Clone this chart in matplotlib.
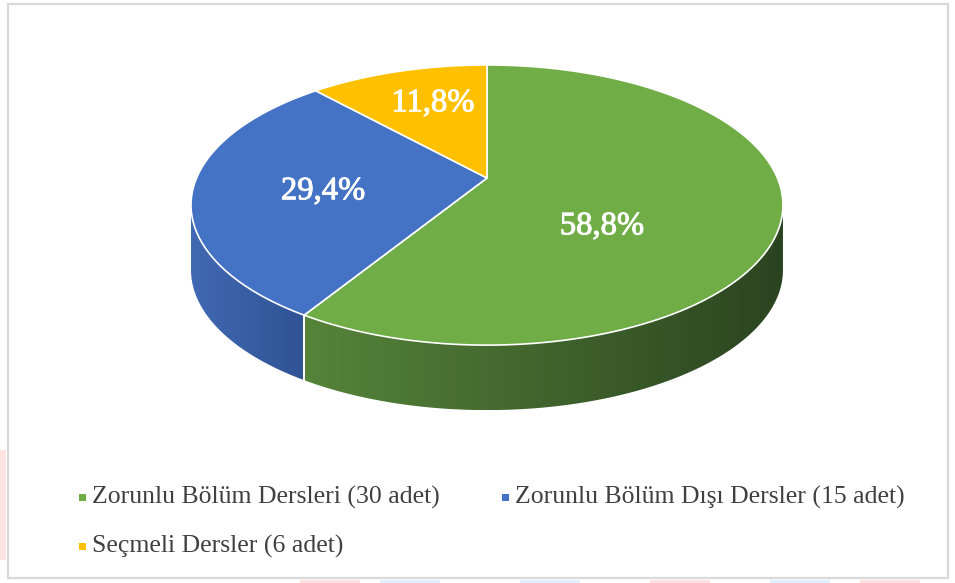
import numpy as np
import matplotlib.pyplot as plt
import matplotlib.patheffects as pe
from matplotlib.patches import Polygon, Rectangle
from matplotlib.colors import LinearSegmentedColormap

# data
labels = ['Zorunlu Bölüm Dersleri (30 adet)',
          'Zorunlu Bölüm Dışı Dersler (15 adet)',
          'Seçmeli Dersler (6 adet)']
counts = [30, 15, 6]
top_colors = ['#70ad47', '#4472c4', '#ffc000']
side_colors = [('#56843a', '#2b4420'), ('#4169b3', '#2f5394'), ('#d9a300', '#a67c00')]

# pie geometry in pixels (perspective: apex above ellipse centre)
cx, c_apex = 487, 178
k = 0.193
d = 100.5
a = 290.4
depth = 65

def rim(theta, drop=0.0):
    u = np.sin(theta)
    v = np.cos(theta)
    w = 1 + k * v
    return cx + a * u / w, (c_apex - d * v) / w + drop

fig = plt.figure(figsize=(9.55, 5.83), dpi=100)
ax = fig.add_axes([0, 0, 1, 1])
ax.set_xlim(0, 955)
ax.set_ylim(583, 0)
ax.axis('off')

# faint watermark bits outside the frame
ax.add_patch(Rectangle((0, 450), 6, 110, color='#ffe4e4', lw=0, zorder=0))
for x0, col in [(300, '#ffe0e0'), (380, '#e0eeff'), (520, '#e0eeff'), (650, '#ffe0e0'),
                (770, '#e0eeff'), (860, '#ffe0e0')]:
    ax.add_patch(Rectangle((x0, 580), 60, 3, color=col, lw=0, zorder=0))

# frame
ax.add_patch(Rectangle((8, 4), 940, 574, fill=False, ec='#d9d9d9', lw=1.6, zorder=1))

total = sum(counts)
fracs = [c / total for c in counts]
starts = np.cumsum([0] + fracs[:-1]) * 2 * np.pi
ends = np.cumsum(fracs) * 2 * np.pi

front0 = np.arccos(-k)
front1 = 2 * np.pi - front0

# side faces with horizontal gradient
for s, e, (c1, c2) in zip(starts, ends, side_colors):
    t0, t1 = max(s, front0), min(e, front1)
    if t1 <= t0:
        continue
    t = np.linspace(t0, t1, 200)
    xt, yt = rim(t)
    xb, yb = rim(t[::-1], depth)
    poly = Polygon(np.column_stack([np.r_[xt, xb], np.r_[yt, yb]]), closed=True,
                   fc='none', ec='none')
    ax.add_patch(poly)
    x_lo, x_hi = min(xt.min(), xb.min()), max(xt.max(), xb.max())
    y_lo, y_hi = min(yt.min(), yb.min()), max(yt.max(), yb.max())
    cmap = LinearSegmentedColormap.from_list('side', [c1, c2])
    grad = np.linspace(0, 1, 256).reshape(1, -1)
    im = ax.imshow(grad, cmap=cmap, extent=[x_lo, x_hi, y_hi, y_lo],
                   aspect='auto', zorder=2)
    im.set_clip_path(poly)
    # white seam at the slice boundary on the side
    for tb in (s, e):
        if front0 < tb < front1:
            xs, ys = rim(np.array([tb]))
            ax.plot([xs[0], xs[0]], [ys[0], ys[0] + depth], color='white', lw=1.2, zorder=3)

ax.set_xlim(0, 955)
ax.set_ylim(583, 0)

# top faces
for s, e, col in zip(starts, ends, top_colors):
    t = np.linspace(s, e, 200)
    xt, yt = rim(t)
    pts = np.column_stack([np.r_[cx, xt], np.r_[c_apex, yt]])
    ax.add_patch(Polygon(pts, closed=True, fc=col, ec='white', lw=1.2, zorder=4,
                         joinstyle='round'))

# data labels
pct_labels = [f'{p * 100:.1f}%'.replace('.', ',') for p in fracs]
label_pos = [(602, 226), (323, 191), (433, 103)]
for txt, (lx, ly) in zip(pct_labels, label_pos):
    ax.text(lx, ly, txt, color='white', fontsize=23.5,
            family='Liberation Serif', ha='center', va='center', zorder=5,
            path_effects=[pe.withStroke(linewidth=0.7, foreground='white')])

# legend
leg_pos = [(82, 497), (505, 497), (82, 546)]
for lab, col, (lx, ly) in zip(labels, top_colors, leg_pos):
    ax.add_patch(Rectangle((lx - 3.5, ly - 3.5), 7, 7, color=col, lw=0, zorder=5))
    ax.text(lx + 10, ly, lab, color='#404040', fontsize=18.5,
            family='Liberation Serif', ha='left', va='center', zorder=5)

fig.savefig('out.png', dpi=100)
